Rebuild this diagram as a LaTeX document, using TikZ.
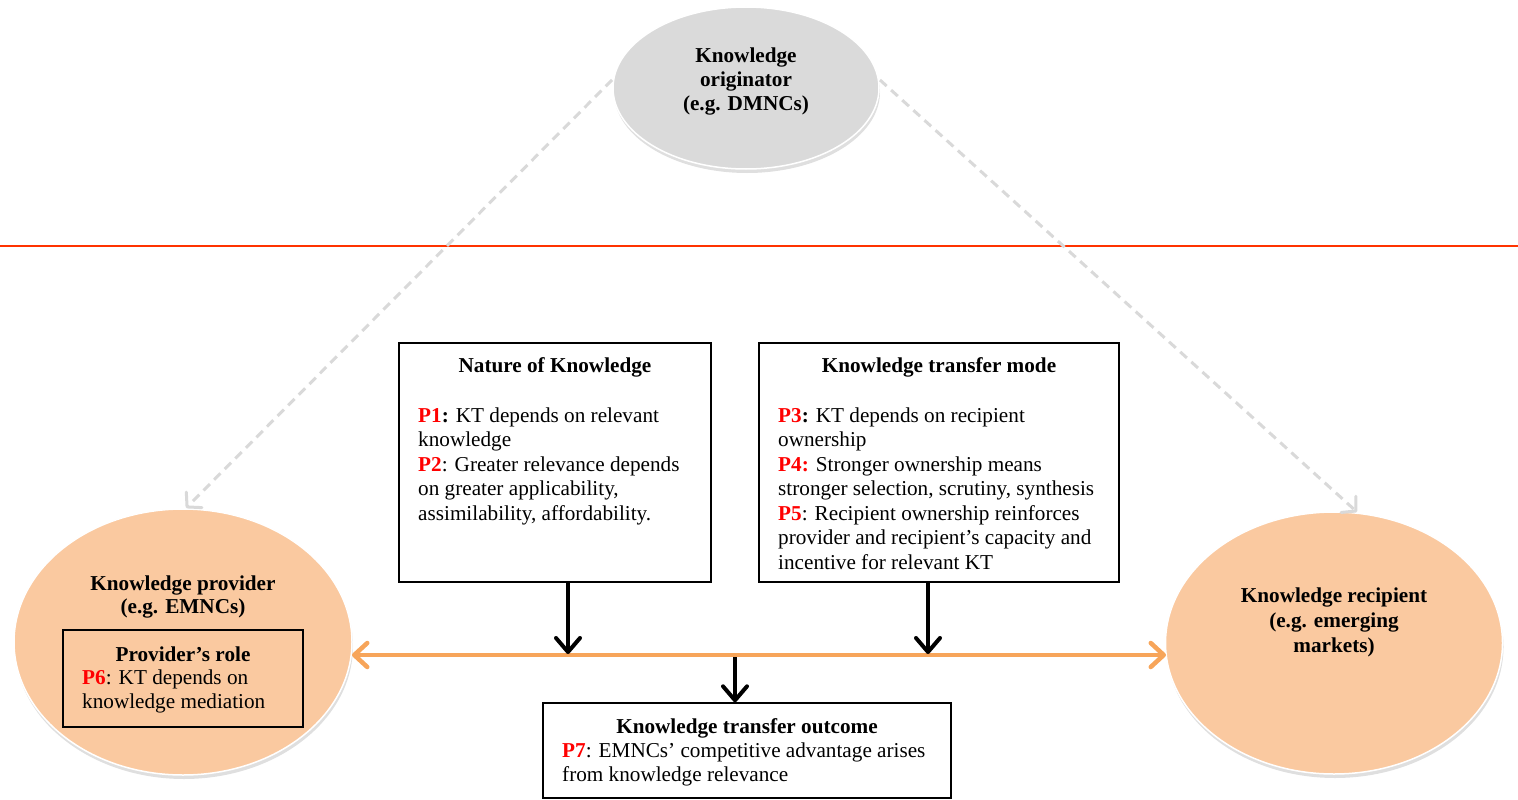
\documentclass[tikz,border=0pt]{standalone}
\usepackage{fontspec}
\setmainfont{Liberation Serif}
\usetikzlibrary{arrows.meta,shadows,shapes.geometric}
\definecolor{peach}{HTML}{FAC9A0}
\definecolor{lgray}{HTML}{DADADA}
\definecolor{dgray}{HTML}{D9D9D9}
\definecolor{orangeln}{HTML}{F7A55A}
\definecolor{redln}{HTML}{FF3300}
\definecolor{pred}{HTML}{FF0000}
\newcommand{\pp}[1]{\textcolor{pred}{\textbf{#1}}}
\newcommand{\fs}{\rule{0pt}{15pt}}
\tikzset{
  blob/.style={ellipse, draw=white, line width=1.5pt, inner sep=0pt,
    drop shadow={opacity=0.25, shadow xshift=1pt, shadow yshift=-4pt, fill=gray}},
  pbox/.style={draw=black, line width=1.4pt, inner sep=0pt},
  txt/.style={inner sep=0pt, font=\fontsize{21.2}{24.5}\selectfont},
  bline/.style={line width=4pt, black, -{Straight Barb[length=14pt,width=24pt,line width=4pt,round]}},
  oline/.style={line width=4.5pt, orangeln, {Straight Barb[length=13pt,width=24pt,line width=4.5pt,round]}-{Straight Barb[length=13pt,width=24pt,line width=4.5pt,round]}},
  dline/.style={line width=3pt, dgray, dash pattern=on 9pt off 6pt, -{Straight Barb[length=10pt,width=22pt,line width=3pt,round]}}
}
\begin{document}
\begin{tikzpicture}[x=1pt,y=-1pt]
\useasboundingbox (0,0) rectangle (1518,800);
% red separator
\draw[redln, line width=2pt] (0,246) -- (1518,246);
% ellipses
\node[blob, fill=lgray, minimum width=266pt, minimum height=162pt] (orig) at (746,88) {};
\node[blob, fill=peach, minimum width=338pt, minimum height=266pt] (prov) at (183,642) {};
\node[blob, fill=peach, minimum width=337pt, minimum height=262pt] (recp) at (1334,643) {};
% dashed arrows
\coordinate (o1) at (612,80);
\coordinate (p1) at (186,508);
\coordinate (o2) at (880,80);
\coordinate (r1) at (1357,512);
\draw[dline] (o1) -- (p1);
\draw[dline] (o2) -- (r1);
% ellipse texts
\node[txt, align=center, anchor=north, font=\fontsize{21.2}{24}\selectfont\bfseries] (origt) at (746,47) {\fs Knowledge\\originator\\(e.g. DMNCs)};
\node[txt, align=center, anchor=north, font=\fontsize{21.2}{23.5}\selectfont\bfseries] (provt) at (183,575) {\fs Knowledge provider\\(e.g. EMNCs)};
\node[txt, align=center, anchor=north, font=\fontsize{21.2}{25}\selectfont\bfseries] (recpt) at (1334,587) {\fs Knowledge recipient\\(e.g. emerging\\markets)};
% provider role box
\node[pbox, fill=peach, minimum width=240pt, minimum height=97pt] (role) at (183,678.5) {};
\node[txt, anchor=base, font=\fontsize{21.2}{24.5}\selectfont\bfseries] (roleh) at (183,661) {Provider’s role};
\node[txt, align=left, anchor=north west, font=\fontsize{21.2}{24.5}\selectfont] (rolet) at (82,669) {\fs\pp{P6}: KT depends on\\knowledge mediation};
% box 1
\node[pbox, fill=white, minimum width=312pt, minimum height=239pt] (nat) at (555,462.5) {};
\node[txt, anchor=base, font=\fontsize{21.2}{24.5}\selectfont\bfseries] (nath) at (555,372) {Nature of Knowledge};
\node[txt, align=left, anchor=north west] (natt) at (418,407) {\fs\pp{P1}\textbf{:} KT depends on relevant\\knowledge\\\pp{P2}: Greater relevance depends\\on greater applicability,\\assimilability, affordability.};
% box 2
\node[pbox, fill=white, minimum width=360pt, minimum height=239pt] (mode) at (939,462.5) {};
\node[txt, anchor=base, font=\fontsize{21.2}{24.5}\selectfont\bfseries] (modeh) at (939,372) {Knowledge transfer mode};
\node[txt, align=left, anchor=north west] (modet) at (778,407) {\fs\pp{P3}\textbf{:} KT depends on recipient\\ownership\\\pp{P4:} Stronger ownership means\\stronger selection, scrutiny, synthesis\\\pp{P5}: Recipient ownership reinforces\\provider and recipient’s capacity and\\incentive for relevant KT};
% outcome box
\node[pbox, fill=white, minimum width=408pt, minimum height=95pt] (out) at (747,750.5) {};
\node[txt, anchor=base, font=\fontsize{21.2}{24.5}\selectfont\bfseries] (outh) at (747,733) {Knowledge transfer outcome};
\node[txt, align=left, anchor=north west] (outt) at (562,742) {\fs\pp{P7}: EMNCs’ competitive advantage arises\\from knowledge relevance};
% orange double arrow
\coordinate (la) at (352,655);
\coordinate (ra) at (1166,655);
\draw[oline] (la) -- (ra);
% black arrows
\coordinate (n1) at (568,654);
\coordinate (m1) at (928,654);
\coordinate (c1) at (735,657);
\draw[bline] (nat.south -| n1) -- (n1);
\draw[bline] (mode.south -| m1) -- (m1);
\draw[bline] (c1) -- (out.north -| c1);
\end{tikzpicture}
\end{document}
